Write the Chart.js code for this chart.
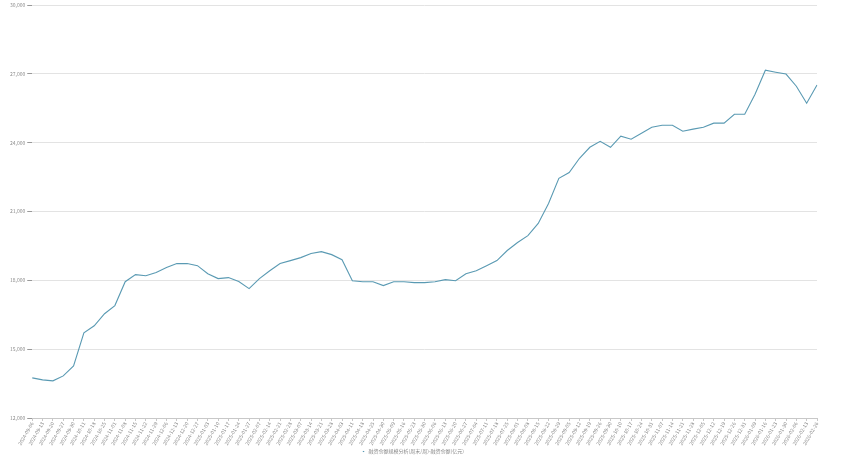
<!DOCTYPE html>
<html>
<head>
<meta charset="utf-8">
<script src="https://cdn.jsdelivr.net/npm/chart.js@4"></script>
<style>
  html, body { margin: 0; padding: 0; background: #fff; }
  #wrap { width: 842px; height: 457px; }
</style>
</head>
<body>
<div id="wrap"><canvas id="chart" width="842" height="457"></canvas></div>
<script>
const dates = [
  "2024-09-06", "2024-09-13", "2024-09-20", "2024-09-27", "2024-09-30",
  "2024-10-11", "2024-10-18", "2024-10-25", "2024-11-01", "2024-11-08",
  "2024-11-15", "2024-11-22", "2024-11-29", "2024-12-06", "2024-12-13",
  "2024-12-20", "2024-12-27", "2025-01-03", "2025-01-10", "2025-01-17",
  "2025-01-24", "2025-01-27", "2025-02-07", "2025-02-14", "2025-02-21",
  "2025-02-28", "2025-03-07", "2025-03-14", "2025-03-21", "2025-03-28",
  "2025-04-03", "2025-04-11", "2025-04-18", "2025-04-25", "2025-04-30",
  "2025-05-09", "2025-05-16", "2025-05-23", "2025-05-30", "2025-06-06",
  "2025-06-13", "2025-06-20", "2025-06-27", "2025-07-04", "2025-07-11",
  "2025-07-18", "2025-07-25", "2025-08-01", "2025-08-08", "2025-08-15",
  "2025-08-22", "2025-08-29", "2025-09-05", "2025-09-12", "2025-09-19",
  "2025-09-26", "2025-09-30", "2025-10-10", "2025-10-17", "2025-10-24",
  "2025-10-31", "2025-11-07", "2025-11-14", "2025-11-21", "2025-11-28",
  "2025-12-05", "2025-12-12", "2025-12-19", "2025-12-26", "2025-12-31",
  "2026-01-09", "2026-01-16", "2026-01-23", "2026-01-30", "2026-02-06",
  "2026-02-13", "2026-02-26"
];

// 融资余额(亿元)
const balance = [
  13750, 13660, 13620, 13835, 14270, 15715, 16020, 16545, 16900, 17940,
  18250, 18200, 18340, 18555, 18730, 18730, 18640, 18290, 18075, 18120,
  17945, 17640, 18075, 18420, 18730, 18860, 18990, 19170, 19250, 19120,
  18900, 17985, 17940, 17940, 17770, 17940, 17940, 17900, 17900, 17940,
  18030, 17985, 18290, 18420, 18640, 18860, 19300, 19650, 19950, 20480,
  21350, 22445, 22700, 23320, 23800, 24060, 23800, 24280, 24150, 24410,
  24670, 24760, 24760, 24500, 24590, 24670, 24850, 24850, 25240, 25240,
  26110, 27160, 27070, 26990, 26460, 25720, 26510
];

const yTicks = [12000, 15000, 18000, 21000, 24000, 27000, 30000];
const seriesLabel = "融资余额规模分析(周末/周)-融资余额(亿元)";

const textColor = "#8a8a8a";
const fontFamily = "'Noto Sans CJK SC', 'Noto Sans', sans-serif";

new Chart(document.getElementById("chart"), {
  type: "line",
  data: {
    labels: dates,
    datasets: [{
      label: seriesLabel,
      data: balance,
      borderColor: "#5a9ab3",
      backgroundColor: "#5a9ab3",
      borderWidth: 1.1,
      pointRadius: 0,
      tension: 0
    }]
  },
  options: {
    responsive: false,
    animation: false,
    layout: { padding: { left: 8, right: 25, top: 4, bottom: 0 } },
    plugins: {
      legend: {
        position: "bottom",
        maxHeight: 10,
        labels: {
          usePointStyle: true,
          pointStyle: "line",
          boxWidth: 6,
          boxHeight: 1,
          padding: 2,
          color: textColor,
          font: { size: 5, family: fontFamily }
        }
      },
      tooltip: { enabled: false }
    },
    scales: {
      x: {
        afterFit: (axis) => { axis.height = 29; },
        grid: { drawOnChartArea: false, tickLength: 3, color: "#c8c8c8" },
        border: { color: "#c8c8c8" },
        ticks: {
          autoSkip: false,
          minRotation: 60,
          maxRotation: 60,
          padding: 0,
          color: textColor,
          font: { size: 5, family: fontFamily }
        }
      },
      y: {
        min: yTicks[0],
        max: yTicks[yTicks.length - 1],
        afterBuildTicks: (axis) => { axis.ticks = yTicks.map(v => ({ value: v })); },
        grid: { color: "#e3e3e3", tickLength: 5, tickColor: "#999" },
        border: { display: false },
        ticks: {
          padding: 2,
          color: textColor,
          font: { size: 5, family: fontFamily },
          callback: (v) => v.toLocaleString("en-US")
        }
      }
    }
  }
});
</script>
</body>
</html>
